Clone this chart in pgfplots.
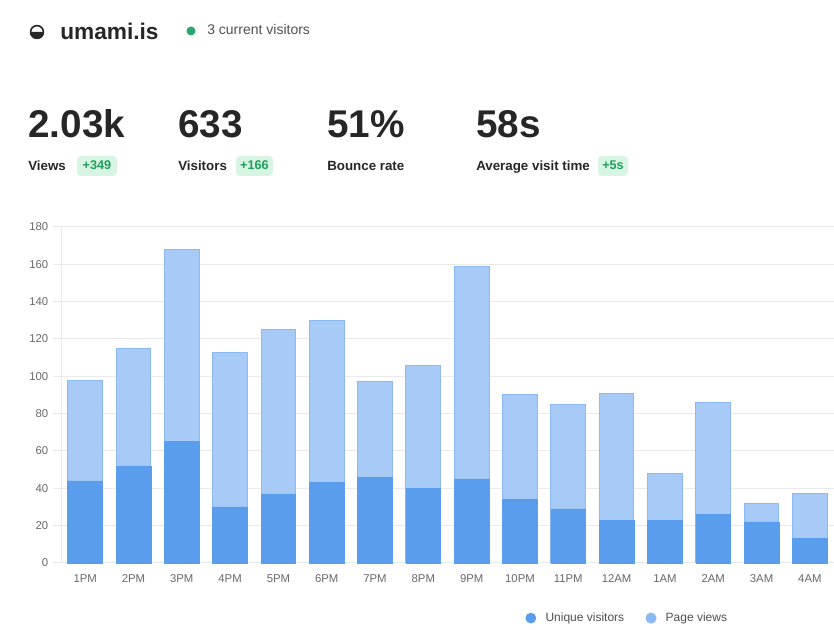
\documentclass[border=0pt]{standalone}
\usepackage{pgfplots}
\pgfplotsset{compat=1.18}
\usepackage{fontspec}
\setmainfont{Liberation Sans}
\definecolor{darkbar}{RGB}{90,157,236}
\definecolor{lightbar}{RGB}{168,202,246}
\definecolor{lightedge}{RGB}{140,185,242}
\definecolor{gridc}{RGB}{234,234,234}
\definecolor{ticktext}{RGB}{105,105,105}
\definecolor{txt}{RGB}{38,38,38}
\definecolor{subtxt}{RGB}{80,80,80}
\definecolor{greendot}{RGB}{44,166,111}
\definecolor{badgebg}{RGB}{216,245,227}
\definecolor{badgetxt}{RGB}{30,160,90}

\pgfplotstableread{
x label pv uv
0 1PM 98 44
1 2PM 115 52
2 3PM 168 65
3 4PM 113 30
4 5PM 125 37
5 6PM 130 43
6 7PM 97 46
7 8PM 106 40
8 9PM 159 45
9 10PM 90 34
10 11PM 85 29
11 12AM 91 23
12 1AM 48 23
13 2AM 86 26
14 3AM 32 22
15 4AM 37 13
}\datatable

\begin{document}
\begin{tikzpicture}[x=0.75pt,y=0.75pt]
\path[use as bounding box, fill=white] (0,0) rectangle (834,630);
% header
\fill[txt] (30,598) arc (180:360:7) -- cycle;
\draw[txt, line width=1.2pt] (37,598) circle (6.4);
\node[anchor=base west, inner sep=0pt, text=txt] at (60,590) {\fontsize{17}{20}\selectfont\bfseries umami.is};
\fill[greendot] (191,599) circle (4.5);
\node[anchor=base west, inner sep=0pt, text=subtxt] at (207,595) {\fontsize{10.5}{12}\selectfont 3 current visitors};
% stats
\foreach \xx/\val in {28/2.03k, 178/633, 327/51\%, 476/58s}{
  \node[anchor=base west, inner sep=0pt, text=txt] at (\xx,492) {\fontsize{29}{34}\selectfont\bfseries \val};
}
\foreach \xx/\lab in {28/Views, 178/Visitors, 327/Bounce rate, 476/Average visit time}{
  \node[anchor=base west, inner sep=0pt, text=txt] at (\xx,459) {\fontsize{10}{12}\selectfont\bfseries \lab};
}
\foreach \xa/\xb/\lab in {77/117/+349, 236/273/+166, 598/628/+5s}{
  \fill[badgebg, rounded corners=3] (\xa,454) rectangle (\xb,474);
  \node[anchor=base, inner sep=0pt, text=badgetxt] at ({(\xa+\xb)/2},460) {\fontsize{9.5}{11}\selectfont\bfseries \lab};
}
\begin{axis}[
  at={(45.75pt,50.25pt)}, anchor=south west,
  scale only axis, width=579.75pt, height=252pt,
  xmin=-0.5, xmax=15.5, ymin=0, ymax=180,
  ytick={0,20,...,180},
  xtick={0,...,15},
  xticklabels from table={\datatable}{label},
  /pgf/number format/assume math mode=true,
  tick label style={font=\fontsize{8.5}{10}\selectfont, text=ticktext},
  axis lines*=left,
  axis line style={gridc, line width=0.75pt},
  ymajorgrids, major grid style={gridc, line width=0.75pt},
  tick align=outside,
  ytick style={draw=gridc, line width=0.75pt},
  major tick length=6pt,
  xtick style={draw=none},
  xticklabel style={yshift=0.75pt},
  clip=false,
  legend columns=2,
  reverse legend,
  legend style={draw=none, fill=none, at={(0.733,-0.164)}, anchor=center,
    font=\fontsize{9}{11}\selectfont, text=subtxt,
    /tikz/every even column/.append style={column sep=14pt}},
]
\addplot[ybar, bar width=0.72, bar shift=0pt, fill=lightbar, draw=lightedge, line width=0.75pt,
  legend image code/.code={\fill[lightedge] (0pt,0pt) circle (3.75pt); \path[draw=none,fill=none] (0pt,0pt) -- (9pt,0pt);}]
  table[x=x, y=pv] {\datatable};
\addlegendentry{Page views}
\addplot[ybar, bar width=0.72, bar shift=0pt, fill=darkbar, draw=darkbar, line width=0.5pt,
  legend image code/.code={\fill[darkbar] (0pt,0pt) circle (3.75pt); \path[draw=none,fill=none] (0pt,0pt) -- (9pt,0pt);}]
  table[x=x, y=uv] {\datatable};
\addlegendentry{Unique visitors}
\end{axis}
\end{tikzpicture}
\end{document}
